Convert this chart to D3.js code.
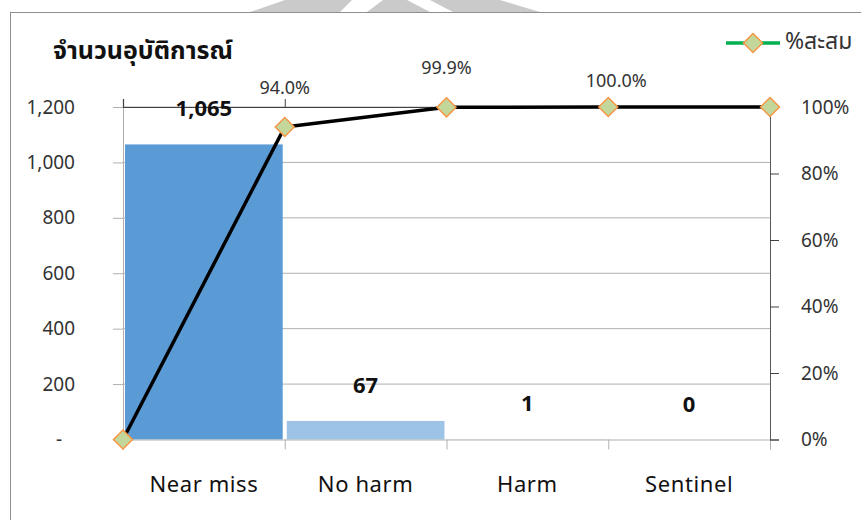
<!DOCTYPE html>
<html><head><meta charset="utf-8">
<script src="https://cdn.jsdelivr.net/npm/d3@7"></script>
<style>
html,body{margin:0;padding:0;background:#fff;}
svg{display:block;}
text{font-family:"Noto Sans","Noto Sans Thai","Leelawadee UI",sans-serif;}
</style></head>
<body>
<svg id="c" width="861" height="520"></svg>
<script>
// ---- data ----
const categories = ["Near miss", "No harm", "Harm", "Sentinel"];
const counts = [1065, 67, 1, 0];
const countLabels = ["1,065", "67", "1", "0"];
const cumEdges = [0, 1, 2, 3, 4];
const cumPct = [0, 0.94, 0.999, 1.0, 1.0];
const cumLabels = [null, "94.0%", "99.9%", "100.0%", null];
const leftTicks = [0, 200, 400, 600, 800, 1000, 1200];
const rightTicks = [0, 0.2, 0.4, 0.6, 0.8, 1.0];
const title = "จำนวนอุบัติการณ์";
const legendLabel = "%สะสม";

// ---- styles ----
const barColors = ["#5B9BD5", "#9DC3E6", "#9DC3E6", "#9DC3E6"];
const cumLabelDy = [0, -33, -33, -20, 0];
const cumLabelDx = [0, 0, 0, 8, 0];

const svg = d3.select("#c");
const L = 123, R = 770, T = 107, B = 439.5;

// watermark fragments at the top
const wm = [
  [[250,12],[340,12],[352,0],[285,0]],
  [[367,12],[430,12],[407,0],[383,0]],
  [[453,12],[540,12],[500,0],[430,0]]
];
svg.selectAll("polygon.wm").data(wm).join("polygon")
  .attr("points", d => d.map(p => p.join(",")).join(" "))
  .attr("fill", "#cacaca");

// chart border
svg.append("rect").attr("x", 10.5).attr("y", 12.5).attr("width", 1000).attr("height", 1000)
  .attr("fill", "#fff").attr("stroke", "#8f8f8f").attr("stroke-width", 1);

const x = d3.scaleBand().domain(categories).range([L, R]).paddingInner(0.025).paddingOuter(0.0125);
const xe = d3.scalePoint().domain(cumEdges).range([L, R]);
const yL = d3.scaleLinear().domain([0, 1200]).range([B, T]);
const yR = d3.scaleLinear().domain([0, 1]).range([B, T]);

// gridlines
svg.append("g").selectAll("line").data(leftTicks.filter(d => d > 0)).join("line")
  .attr("x1", L).attr("x2", R).attr("y1", d => yL(d)).attr("y2", d => yL(d))
  .attr("stroke", "#b0b0b0").attr("stroke-width", 1);

// bars
svg.append("g").selectAll("rect").data(counts).join("rect")
  .attr("x", (d, i) => x(categories[i]))
  .attr("width", x.bandwidth())
  .attr("y", d => yL(d))
  .attr("height", d => B - yL(d))
  .attr("fill", (d, i) => barColors[i]);

// left axis
const gl = svg.append("g").attr("transform", `translate(${L},0)`)
  .call(d3.axisLeft(yL).tickValues(leftTicks).tickSize(10).tickPadding(38)
    .tickFormat(d => d === 0 ? "-" : d3.format(",")(d)));
gl.select(".domain").attr("stroke", "#b0b0b0");
gl.selectAll(".tick line").attr("stroke", "#b0b0b0");
gl.selectAll(".tick text").attr("font-size", 19).attr("fill", "#333")
  .style("font-family", "'Noto Sans',sans-serif")
  .attr("dx", d => d === 0 ? -13 : 0);

// bottom axis
const gb = svg.append("g").attr("transform", `translate(0,${B})`)
  .call(d3.axisBottom(xe).tickValues(cumEdges).tickSize(10).tickFormat(""));
gb.select(".domain").attr("stroke", "#b0b0b0");
gb.selectAll(".tick line").attr("stroke", "#b0b0b0");
svg.append("g").selectAll("text").data(categories).join("text")
  .attr("x", d => x(d) + x.bandwidth() / 2).attr("y", 492)
  .attr("text-anchor", "middle").attr("font-size", 22).attr("fill", "#111")
  .style("letter-spacing", "0.6px")
  .text(d => d);

// top (secondary) axis
const gt = svg.append("g").attr("transform", `translate(0,${T})`)
  .call(d3.axisTop(xe).tickValues(cumEdges).tickSize(8).tickFormat(""));
gt.select(".domain").attr("stroke", "#404040").attr("stroke-width", 1.2);
gt.selectAll(".tick line").attr("stroke", "#404040");

// right axis
const gr = svg.append("g").attr("transform", `translate(${R},0)`)
  .call(d3.axisRight(yR).tickValues(rightTicks).tickSize(9).tickPadding(22)
    .tickFormat(d3.format(".0%")));
gr.select(".domain").attr("stroke", "#595959");
gr.selectAll(".tick line").attr("stroke", "#404040");
gr.selectAll(".tick text").attr("font-size", 19).attr("fill", "#333")
  .style("font-family", "'Noto Sans',sans-serif");

// bar value labels
svg.append("g").selectAll("text").data(counts).join("text")
  .attr("x", (d, i) => x(categories[i]) + x.bandwidth() / 2)
  .attr("y", d => yL(d) - 28)
  .attr("text-anchor", "middle").attr("font-size", 22).attr("font-weight", "bold")
  .attr("fill", "#111")
  .text((d, i) => countLabels[i]);

// cumulative line
const line = d3.line().x((d, i) => xe(cumEdges[i])).y(d => yR(d));
svg.append("path").datum(cumPct).attr("d", line)
  .attr("fill", "none").attr("stroke", "#000").attr("stroke-width", 3.5)
  .attr("stroke-linejoin", "round");

const diamond = s => `M0,${-s}L${s},0L0,${s}L${-s},0Z`;
svg.append("g").selectAll("path").data(cumPct).join("path")
  .attr("transform", (d, i) => `translate(${xe(cumEdges[i])},${yR(d)})`)
  .attr("d", diamond(9.5))
  .attr("fill", "#C4D79B").attr("stroke", "#F79646").attr("stroke-width", 1.5);

const cumData = cumPct.map((v, i) => ({ v, i })).filter(o => cumLabels[o.i] !== null);
svg.append("g").selectAll("text").data(cumData).join("text")
  .attr("x", o => xe(cumEdges[o.i]) + cumLabelDx[o.i])
  .attr("y", o => yR(o.v) + cumLabelDy[o.i])
  .attr("text-anchor", "middle").attr("font-size", 18).attr("fill", "#333")
  .text(o => cumLabels[o.i]);

// title
svg.append("text").attr("x", 53).attr("y", 59)
  .attr("font-size", 25).attr("font-weight", "bold").attr("fill", "#111")
  .text(title);

// legend
const lg = svg.append("g").attr("transform", "translate(753,43)");
lg.append("line").attr("x1", -27).attr("x2", 27).attr("stroke", "#00B050").attr("stroke-width", 3.5);
lg.append("path").attr("d", diamond(9.5)).attr("fill", "#C4D79B").attr("stroke", "#F79646").attr("stroke-width", 1.5);
lg.append("text").attr("x", 32).attr("y", 6).attr("font-size", 23).attr("fill", "#333")
  .text(legendLabel);
</script>
</body></html>
